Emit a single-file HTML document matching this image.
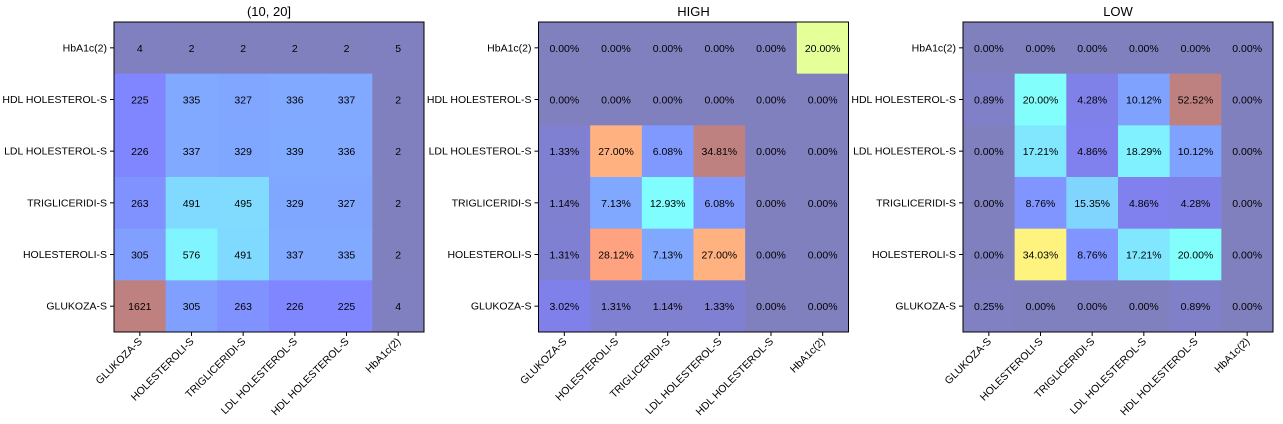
<!DOCTYPE html>
<html><head><meta charset="utf-8"><style>
body{margin:0;background:#fff;}
svg{display:block;font-family:"Liberation Sans","DejaVu Sans",sans-serif;}
</style></head><body>
<svg id="chart" width="1283" height="424" viewBox="0 0 1283 424"></svg>
<script>
const rowLabels = ["HbA1c(2)","HDL HOLESTEROL-S","LDL HOLESTEROL-S","TRIGLICERIDI-S","HOLESTEROLI-S","GLUKOZA-S"];
const colLabels = ["GLUKOZA-S","HOLESTEROLI-S","TRIGLICERIDI-S","LDL HOLESTEROL-S","HDL HOLESTEROL-S","HbA1c(2)"];
const titles = ["(10, 20]","HIGH","LOW"];
const values1 = [
 [4,2,2,2,2,5],
 [225,335,327,336,337,2],
 [226,337,329,339,336,2],
 [263,491,495,329,327,2],
 [305,576,491,337,335,2],
 [1621,305,263,226,225,4]];
const values2 = [
 [0,0,0,0,0,20.00],
 [0,0,0,0,0,0],
 [1.33,27.00,6.08,34.81,0,0],
 [1.14,7.13,12.93,6.08,0,0],
 [1.31,28.12,7.13,27.00,0,0],
 [3.02,1.31,1.14,1.33,0,0]];
const values3 = [
 [0,0,0,0,0,0],
 [0.89,20.00,4.28,10.12,52.52,0],
 [0,17.21,4.86,18.29,10.12,0],
 [0,8.76,15.35,4.86,4.28,0],
 [0,34.03,8.76,17.21,20.00,0],
 [0.25,0,0,0,0.89,0]];
const panels=[{v:values1,x:114,pct:false},{v:values2,x:538.5,pct:true},{v:values3,x:963,pct:true}];
const top0=22, size=310;
const NS="http://www.w3.org/2000/svg";
const svg=document.getElementById('chart');
function mk(t,a,p){const e=document.createElementNS(NS,t);for(const k in a)e.setAttribute(k,a[k]);(p||svg).appendChild(e);return e;}
function cl(x){return Math.max(0,Math.min(1,x));}
function jet(x){const r=cl(1.5-Math.abs(4*x-3)),g=cl(1.5-Math.abs(4*x-2)),b=cl(1.5-Math.abs(4*x-1));
 const f=c=>Math.round(255*(0.5*c+0.5));return `rgb(${f(r)},${f(g)},${f(b)})`;}
panels.forEach((p,pi)=>{
 const g=mk('g',{});
 
 
 const n=6, c=size/n;
 const mx=Math.max(...p.v.flat()), mn=Math.min(...p.v.flat());
 const xs=i=>p.x+i*c, ys=j=>top0+j*c;
 for(let j=0;j<n;j++)for(let i=0;i<n;i++){
  const val=p.v[j][i];
  const r=mk('rect',{x:xs(i),y:ys(j),width:c+0.5,height:c+0.5,fill:jet((val-mn)/(mx-mn))},g);
  
  
  const t=mk('text',{x:xs(i)+c/2,y:ys(j)+c/2+4,'text-anchor':'middle','font-size':10.5,fill:'#000'},g);
  
  
  t.textContent=p.pct?val.toFixed(2)+'%':String(val);
 }
 mk('rect',{x:p.x,y:top0,width:size,height:size,fill:'none',stroke:'#000','stroke-width':1},g);
 const tt=mk('text',{x:p.x+size/2,y:16,'text-anchor':'middle','font-size':13},g);
 
 
 tt.textContent=titles[pi];
 rowLabels.forEach((l,j)=>{
  const y=ys(j)+c/2;
  mk('line',{x1:p.x-4,x2:p.x,y1:y,y2:y,stroke:'#000'},g);
  const t=mk('text',{x:p.x-7,y:y+3.5,'text-anchor':'end','font-size':10.5},g);
  
  
  t.textContent=l;
 });
 colLabels.forEach((l,i)=>{
  const x=xs(i)+c/2, yb=top0+size;
  mk('line',{x1:x,x2:x,y1:yb,y2:yb+4,stroke:'#000'},g);
  const t=mk('text',{x:x+3,y:yb+10,'text-anchor':'end','font-size':10.5,transform:`rotate(-45 ${x+3} ${yb+10})`},g);
  
  
  t.textContent=l;
 });
});
</script>
</body></html>
